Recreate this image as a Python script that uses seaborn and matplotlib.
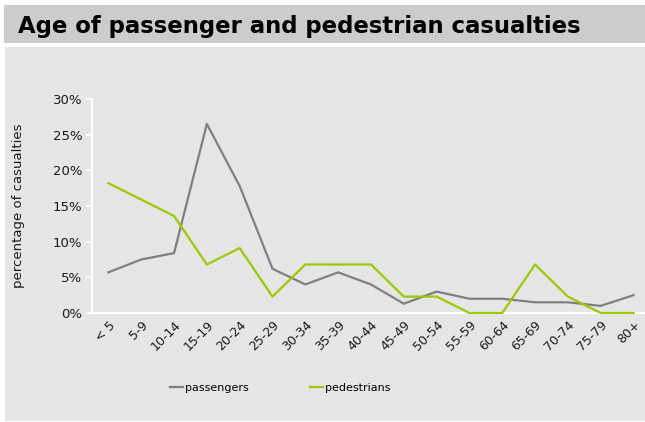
import matplotlib
matplotlib.use("Agg")
import matplotlib.pyplot as plt
from matplotlib.patches import Rectangle
from matplotlib.ticker import FuncFormatter
import pandas as pd
import seaborn as sns

# Age bands and share of casualties (fractions)
age_bands = ["< 5", "5-9", "10-14", "15-19", "20-24", "25-29", "30-34", "35-39",
             "40-44", "45-49", "50-54", "55-59", "60-64", "65-69", "70-74",
             "75-79", "80+"]
passengers = [0.057, 0.075, 0.084, 0.265, 0.178, 0.062, 0.040, 0.057,
              0.040, 0.013, 0.030, 0.020, 0.020, 0.015, 0.015, 0.010, 0.025]
pedestrians = [0.182, 0.159, 0.136, 0.068, 0.091, 0.023, 0.068, 0.068,
               0.068, 0.023, 0.023, 0.000, 0.000, 0.068, 0.023, 0.000, 0.000]
series_names = ["passengers", "pedestrians"]
series_colors = ["#808080", "#99cc00"]
y_ticks = [0.0, 0.05, 0.10, 0.15, 0.20, 0.25, 0.30]

df = pd.DataFrame({
    "age": list(range(len(age_bands))) * 2,
    "share": passengers + pedestrians,
    "group": [series_names[0]] * len(age_bands) + [series_names[1]] * len(age_bands),
})

plt.rcParams["font.family"] = ["DejaVu Sans"]
fig = plt.figure(figsize=(6.45, 4.22), dpi=100)
fig.patch.set_facecolor("white")

# title bar and chart panel
fig.add_artist(Rectangle((4 / 645, 1 - 43 / 422), 641 / 645, 38 / 422,
                         transform=fig.transFigure, facecolor="#cccccc",
                         edgecolor="none", zorder=0))
fig.add_artist(Rectangle((5 / 645, 1 - 421 / 422), 640 / 645, 374 / 422,
                         transform=fig.transFigure, facecolor="#e6e6e6",
                         edgecolor="none", zorder=0))
fig.text(18 / 645, 1 - 33 / 422, "Age of passenger and pedestrian casualties",
         fontsize=16.4, fontweight="bold", color="black", ha="left",
         va="baseline")

ax = fig.add_axes([92 / 645, 109 / 422, 553 / 645, 214 / 422])
ax.set_facecolor("none")

sns.lineplot(data=df, x="age", y="share", hue="group",
             palette=dict(zip(series_names, series_colors)),
             linewidth=1.6, ax=ax, legend=True)
for line in ax.lines:
    line.set_zorder(3)
    line.set_clip_on(False)

ax.set_xlim(-0.5, 16.35)
ax.set_ylim(0, 0.30)
ax.set_yticks(y_ticks)
ax.yaxis.set_major_formatter(FuncFormatter(lambda v, _: f"{v * 100:.0f}%"))
ax.set_xticks(range(len(age_bands)))
ax.set_xticklabels(age_bands, rotation=45, ha="right", rotation_mode="anchor")
ax.tick_params(axis="x", length=0, pad=4, labelsize=9, colors="#1a1a1a")
ax.tick_params(axis="y", length=4, width=1.2, color="white", pad=3,
               labelsize=9.5, labelcolor="#1a1a1a")
ax.set_xlabel("")
ax.set_ylabel("percentage of casualties", fontsize=9.5, color="#1a1a1a",
              labelpad=20)
for side in ("top", "right"):
    ax.spines[side].set_visible(False)
for side in ("left", "bottom"):
    ax.spines[side].set_color("white")
    ax.spines[side].set_linewidth(1.5)
    ax.spines[side].set_zorder(2)
ax.grid(False)

handles, labels = ax.get_legend_handles_labels()
ax.legend(handles, labels, loc="center", bbox_to_anchor=(280 / 645, 1 - 388 / 422),
          bbox_transform=fig.transFigure, ncol=2, frameon=False,
          handlelength=1.2, handletextpad=0.15, columnspacing=5.5,
          fontsize=8)

fig.savefig("out.png", dpi=100, facecolor=fig.get_facecolor())
